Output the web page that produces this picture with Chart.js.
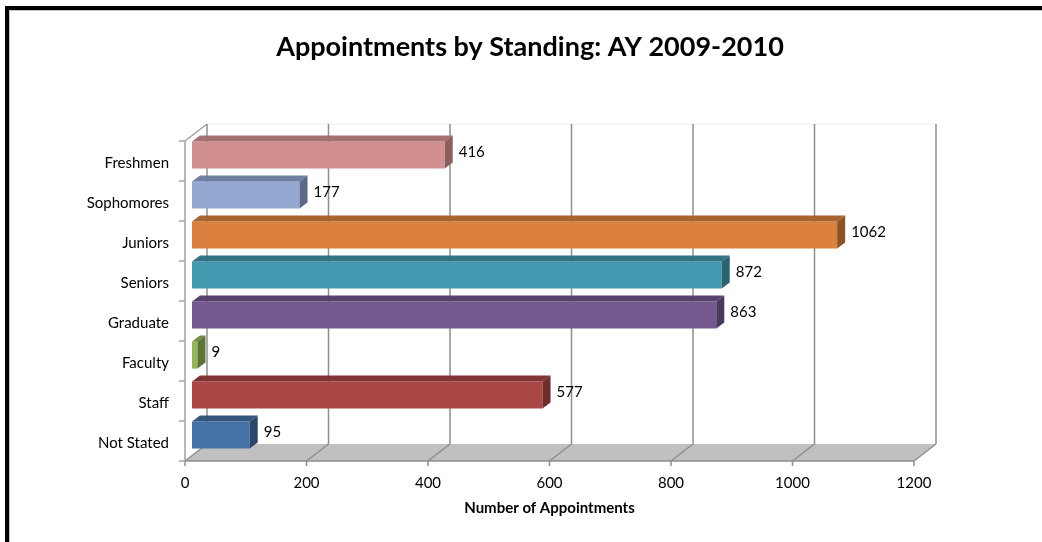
<!DOCTYPE html>
<html>
<head>
<meta charset="utf-8">
<title>Appointments by Standing</title>
<script src="https://cdn.jsdelivr.net/npm/chart.js@4.4.0/dist/chart.umd.min.js"></script>
<style>
  html, body { margin: 0; padding: 0; background: #fff; }
  .wrap { position: relative; width: 1042px; height: 542px; overflow: hidden; }
  .frame {
    position: absolute; left: 5px; top: 6px; width: 1200px; height: 700px;
    border-top: 4px solid #000; border-left: 4px solid #000; pointer-events: none;
  }
  .frame::after {
    content: ''; position: absolute; left: 0; top: 0; right: 0; bottom: 0;
    border-top: 1px solid #c4c4c4; border-left: 1px solid #c4c4c4;
  }
</style>
</head>
<body>
<div class="wrap">
  <canvas id="chart" width="1042" height="542"></canvas>
  <div class="frame"></div>
</div>
<script>
const chartTitle = 'Appointments by Standing: AY 2009-2010';
const axisTitle = 'Number of Appointments';
const categories = ['Freshmen', 'Sophomores', 'Juniors', 'Seniors', 'Graduate', 'Faculty', 'Staff', 'Not Stated'];
const appointments = [416, 177, 1062, 872, 863, 9, 577, 95];
const xTicks = [0, 200, 400, 600, 800, 1000, 1200];

const frontColors = ['#d18f8f', '#94a8d2', '#dc813d', '#4299b0', '#74588e', '#93b656', '#ab4744', '#4471a6'];
const topColors   = ['#a47170', '#6f7fa1', '#a9632f', '#327484', '#58436c', '#6f8a41', '#833534', '#33557e'];
const sideColors  = ['#8c5e5e', '#5c6a88', '#8f5224', '#2a6270', '#493a5c', '#5c7436', '#6e2c2b', '#2b4769'];

const FONT = 'Lato, "Open Sans", sans-serif';

// depth of the floor / back wall, offset of the bars inside it, bar thickness
const DX = 22, DY = -17;
const BX = 7, BY = -6;
const TX = 8, TY = -6;

function line(ctx, x1, y1, x2, y2) {
  ctx.beginPath();
  ctx.moveTo(x1, y1);
  ctx.lineTo(x2, y2);
  ctx.stroke();
}

function poly(ctx, pts, color) {
  ctx.fillStyle = color;
  ctx.beginPath();
  ctx.moveTo(pts[0][0], pts[0][1]);
  for (let i = 1; i < pts.length; i++) ctx.lineTo(pts[i][0], pts[i][1]);
  ctx.closePath();
  ctx.fill();
}

const titlePlugin = {
  id: 'bigTitle',
  afterDraw(chart) {
    const ctx = chart.ctx;
    ctx.save();
    ctx.font = 'bold 27px ' + FONT;
    ctx.fillStyle = '#000';
    ctx.textAlign = 'center';
    ctx.textBaseline = 'middle';
    ctx.fillText(chartTitle, 530, 47);
    ctx.restore();
  }
};

const box3d = {
  id: 'box3d',
  beforeDatasetsDraw(chart) {
    const { ctx, chartArea: a, scales: { x } } = chart;
    const left = x.getPixelForValue(xTicks[0]);
    const right = x.getPixelForValue(xTicks[xTicks.length - 1]);
    ctx.save();

    // floor
    poly(ctx, [[left, a.bottom], [right, a.bottom], [right + DX, a.bottom + DY], [left + DX, a.bottom + DY]], '#c0c0c0');

    // back wall top edge
    ctx.strokeStyle = '#ececec';
    ctx.lineWidth = 1;
    line(ctx, left + DX, a.top + DY, right + DX, a.top + DY);

    // gridlines: across the floor, then up the back wall
    ctx.strokeStyle = '#8e8e8e';
    ctx.lineWidth = 1.5;
    xTicks.forEach(v => {
      const px = x.getPixelForValue(v);
      line(ctx, px, a.bottom, px + DX, a.bottom + DY);
      line(ctx, px + DX, a.bottom + DY, px + DX, a.top + DY);
      line(ctx, px, a.bottom, px, a.bottom + 5);
    });
    line(ctx, left, a.bottom, right, a.bottom);

    // left wall edges and category ticks
    ctx.strokeStyle = '#a0a0a0';
    line(ctx, left, a.top, left, a.bottom);
    line(ctx, left, a.top, left + DX, a.top + DY);
    const step = a.height / categories.length;
    for (let i = 0; i <= categories.length; i++) {
      const yy = a.top + i * step;
      line(ctx, left - 6, yy, left, yy);
    }
    ctx.restore();

    // bars sit in the middle of the depth
    ctx.save();
    ctx.translate(BX, BY);
  },
  afterDatasetsDraw(chart) {
    const ctx = chart.ctx;
    const meta = chart.getDatasetMeta(0);
    meta.data.forEach((bar, i) => {
      const { x: x1, y: yc, base: x0, height: h } = bar.getProps(['x', 'y', 'base', 'height'], true);
      const t = yc - h / 2, b = yc + h / 2;
      poly(ctx, [[x0, t], [x1, t], [x1 + TX, t + TY], [x0 + TX, t + TY]], topColors[i]);
      poly(ctx, [[x1, t], [x1 + TX, t + TY], [x1 + TX, b + TY], [x1, b]], sideColors[i]);

      ctx.font = '15px ' + FONT;
      ctx.fillStyle = '#000';
      ctx.textAlign = 'left';
      ctx.textBaseline = 'middle';
      ctx.fillText(String(appointments[i]), x1 + TX + 6, yc - 3);
    });
    ctx.restore();
  }
};

new Chart(document.getElementById('chart'), {
  type: 'bar',
  data: {
    labels: categories,
    datasets: [{
      data: appointments,
      backgroundColor: frontColors,
      borderWidth: 0,
      barPercentage: 0.68,
      categoryPercentage: 1
    }]
  },
  options: {
    indexAxis: 'y',
    responsive: false,
    animation: false,
    events: [],
    layout: { padding: { top: 141, right: 128, left: 0, bottom: 0 } },
    plugins: {
      legend: { display: false },
      title: { display: false },
      tooltip: { enabled: false }
    },
    scales: {
      x: {
        min: 0,
        max: 1200,
        ticks: {
          stepSize: 200, color: '#000', padding: 13,
          font: { family: FONT, size: 15 },
          callback: v => String(v)
        },
        grid: { display: false, drawTicks: false },
        border: { display: false },
        title: {
          display: true,
          text: axisTitle,
          color: '#000',
          font: { family: FONT, size: 15, weight: 'bold' },
          padding: { top: 0, bottom: 25 }
        },
        afterFit(scale) { scale.height = 81; }
      },
      y: {
        ticks: { color: '#000', padding: 16, labelOffset: 2, font: { family: FONT, size: 15 } },
        grid: { display: false, drawTicks: false },
        border: { display: false },
        afterFit(scale) { scale.width = 185; }
      }
    }
  },
  plugins: [box3d, titlePlugin]
});
</script>
</body>
</html>
